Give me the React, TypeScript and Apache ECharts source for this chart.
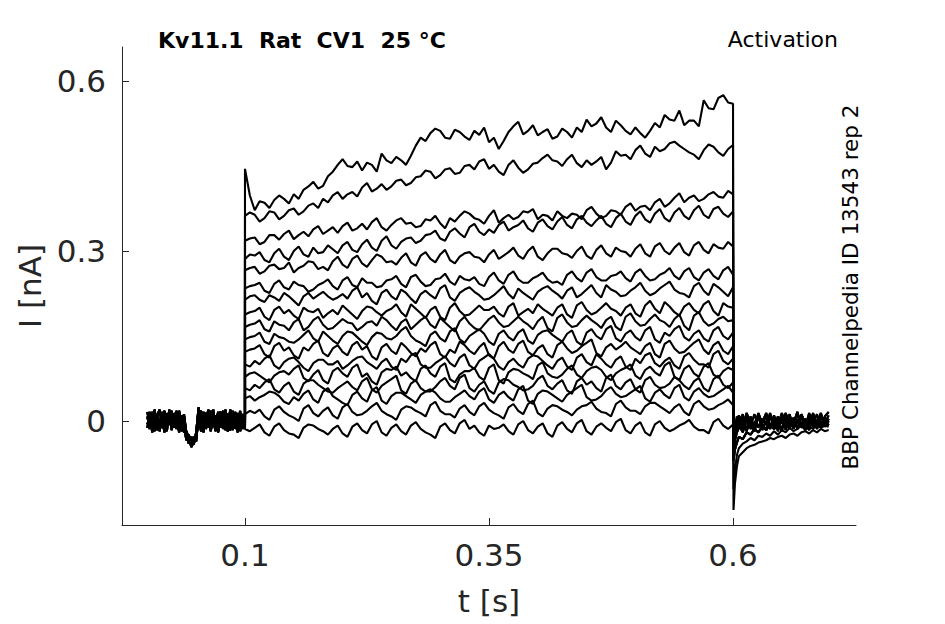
import React, { useEffect, useRef } from "react";
import * as echarts from "echarts";

// Sample times [s]
const preT: number[] = Array.from({ length: 41 }, (_, i) => +(0.0025 * i).toFixed(4));
const stepT: number[] = Array.from({ length: 101 }, (_, i) => +(0.1 + 0.005 * i).toFixed(4));
const postT: number[] = [0.6005, 0.602, 0.604, ...Array.from({ length: 24 }, (_, i) => +(0.606 + 0.004 * i).toFixed(4))];

// Currents in pA (converted to nA when building the series)
const preA = [8, -14, 16, -6, 12, -18, 4, 18, -10, 6, -16, 14, -4, 10, -18, 8, -26, -38, -30, -42, -20, 24, -10, 16, -14, 8, -18, 12, -6, 16, -12, 4, -16, 14, -8, 18, -14, 6, -10, 12, 2];
const preB = [-12, 16, -4, -18, 10, 20, -8, -16, 14, 2, 18, -12, 8, -20, 6, -10, -34, -24, -44, -28, -36, 10, 18, -16, 4, 20, -8, -2, -18, 10, 16, -14, 8, -4, 20, -16, 2, 14, -18, -2, 6];
const preC = [16, -8, 4, 20, -16, -2, 12, -20, 8, -6, 14, 0, -14, 18, -4, 12, -22, -40, -28, -36, -30, 4, -18, 8, 14, -12, 18, -4, 10, -20, 2, 18, -8, -18, 6, -4, 16, -20, 10, -6, -10];
const preD = [-6, 8, -20, 12, 2, -12, 16, -4, -18, 20, -10, 6, 18, -16, 10, -20, -18, -30, -46, -34, -26, 18, 6, -20, 12, -6, 2, 20, -14, -10, 14, -6, 20, -12, -16, 8, 12, -6, 18, -14, -4];

// Step currents, 0.100 s to 0.600 s every 5 ms
const trace1 = [
  445, 398, 372, 388, 385, 376, 390, 398, 392, 384,
  400, 392, 408, 414, 422, 410, 415, 432, 440, 452,
  462, 450, 448, 458, 442, 456, 452, 440, 472, 460,
  455, 466, 460, 452, 468, 486, 500, 494, 508, 516,
  512, 500, 498, 514, 510, 502, 496, 512, 505, 518,
  492, 500, 480, 494, 510, 520, 528, 506, 512, 522,
  504, 510, 515, 498, 502, 516, 510, 500, 518, 510,
  532, 520, 525, 536, 518, 510, 530, 522, 512, 506,
  518, 508, 500, 512, 526, 518, 540, 532, 530, 548,
  522, 530, 530, 520, 566, 552, 550, 570, 575, 562, 560];
const trace2 = [
  362, 368, 364, 352, 358, 370, 368, 356, 362, 372,
  375, 364, 370, 380, 384, 376, 392, 386, 398, 404,
  392, 400, 404, 396, 412, 420, 405, 410, 418, 408,
  414, 424, 426, 416, 420, 430, 432, 442, 440, 428,
  434, 444, 446, 436, 438, 450, 452, 444, 458, 462,
  445, 452, 440, 434, 452, 460, 447, 438, 444, 454,
  456, 464, 470, 460, 458, 450, 462, 470, 455, 448,
  460, 452, 458, 466, 444, 456, 476, 468, 470, 462,
  478, 486, 472, 466, 484, 476, 480, 490, 493, 486,
  480, 474, 470, 462, 478, 488, 484, 474, 468, 480, 487];
const trace3 = [
  318, 322, 324, 312, 316, 328, 328, 320, 330, 336,
  321, 328, 334, 326, 338, 344, 330, 336, 342, 332,
  344, 350, 336, 340, 348, 338, 351, 358, 342, 336,
  346, 354, 358, 348, 350, 342, 344, 356, 354, 362,
  349, 340, 358, 352, 362, 370, 366, 358, 355, 348,
  362, 372, 350, 358, 364, 356, 360, 370, 368, 374,
  356, 364, 362, 354, 370, 362, 358, 366, 364, 356,
  372, 378, 366, 358, 362, 372, 370, 364, 378, 384,
  371, 378, 380, 372, 386, 392, 378, 384, 394, 402,
  386, 394, 398, 388, 392, 400, 404, 396, 394, 406, 400];
const trace4 = [
  286, 294, 292, 298, 284, 280, 296, 304, 290, 284,
  300, 308, 294, 290, 306, 296, 298, 310, 303, 296,
  310, 316, 302, 298, 312, 320, 306, 300, 318, 326,
  310, 304, 316, 322, 324, 314, 318, 328, 330, 336,
  322, 318, 334, 340, 331, 324, 342, 348, 334, 328,
  338, 332, 346, 352, 336, 342, 346, 354, 340, 334,
  350, 356, 344, 338, 352, 360, 346, 340, 356, 362,
  350, 344, 354, 362, 348, 342, 358, 366, 352, 346,
  362, 370, 356, 350, 366, 374, 358, 352, 368, 376,
  362, 356, 372, 380, 364, 358, 374, 378, 366, 360, 370];
const trace5 = [
  266, 270, 272, 260, 264, 274, 276, 268, 270, 280,
  262, 270, 274, 282, 280, 268, 272, 266, 282, 290,
  276, 270, 286, 292, 278, 272, 284, 294, 290, 280,
  282, 276, 288, 296, 280, 274, 292, 298, 286, 280,
  294, 302, 284, 278, 290, 296, 298, 290, 288, 280,
  294, 302, 286, 292, 298, 306, 292, 286, 300, 308,
  290, 284, 296, 304, 304, 296, 294, 288, 300, 308,
  292, 286, 302, 310, 296, 290, 306, 300, 298, 290,
  304, 312, 296, 290, 308, 314, 300, 294, 306, 314,
  298, 292, 310, 316, 302, 296, 312, 306, 304, 316, 308];
const trace6 = [
  234, 238, 240, 244, 230, 226, 242, 248, 236, 232,
  246, 240, 238, 228, 232, 240, 244, 250, 238, 232,
  248, 254, 240, 236, 252, 244, 244, 236, 238, 248,
  250, 256, 242, 236, 254, 258, 246, 238, 240, 250,
  252, 260, 246, 240, 256, 250, 248, 254, 242, 238,
  254, 262, 248, 242, 258, 264, 250, 244, 244, 252,
  256, 262, 250, 244, 246, 240, 258, 264, 252, 246,
  262, 268, 254, 248, 248, 256, 258, 264, 252, 246,
  262, 268, 256, 248, 250, 258, 262, 270, 256, 250,
  264, 270, 254, 248, 262, 268, 256, 250, 266, 272, 258];
const trace7 = [
  214, 220, 222, 214, 210, 222, 218, 212, 226, 220,
  212, 204, 220, 226, 216, 222, 228, 220, 214, 218,
  224, 216, 230, 236, 218, 226, 212, 206, 226, 232,
  220, 214, 232, 226, 216, 208, 224, 230, 222, 216,
  234, 240, 218, 212, 226, 232, 236, 228, 222, 214,
  216, 222, 230, 238, 224, 216, 234, 226, 220, 214,
  228, 234, 238, 230, 224, 216, 230, 236, 218, 224,
  232, 240, 226, 218, 240, 232, 228, 220, 222, 230,
  236, 244, 230, 222, 226, 234, 240, 246, 232, 226,
  224, 218, 238, 244, 230, 222, 242, 236, 228, 220, 236];
const trace8 = [
  188, 192, 194, 200, 184, 178, 196, 202, 190, 196,
  186, 180, 200, 194, 192, 198, 182, 190, 196, 188,
  204, 196, 188, 180, 194, 202, 200, 192, 186, 194,
  198, 206, 192, 184, 206, 198, 190, 182, 196, 202,
  184, 178, 200, 208, 194, 186, 188, 196, 204, 196,
  196, 202, 190, 184, 202, 208, 186, 192, 198, 190,
  206, 198, 192, 186, 200, 206, 188, 182, 204, 210,
  196, 188, 192, 200, 208, 198, 194, 186, 200, 206,
  190, 184, 204, 212, 198, 190, 210, 202, 192, 186,
  202, 208, 196, 190, 206, 212, 194, 186, 208, 202, 200];
const trace9 = [
  166, 170, 172, 178, 162, 158, 176, 170, 168, 160,
  174, 180, 160, 166, 178, 184, 170, 162, 164, 172,
  180, 174, 172, 160, 166, 174, 176, 168, 184, 178,
  168, 160, 174, 180, 162, 170, 178, 184, 170, 164,
  182, 174, 166, 158, 176, 184, 172, 164, 160, 170,
  180, 186, 174, 166, 168, 176, 184, 176, 170, 162,
  176, 184, 164, 158, 182, 188, 174, 166, 168, 178,
  186, 178, 172, 164, 178, 184, 166, 160, 184, 190,
  176, 168, 170, 180, 188, 178, 174, 166, 180, 188,
  168, 160, 186, 192, 176, 168, 172, 180, 184, 176, 178];
const trace10 = [
  144, 148, 150, 156, 140, 136, 154, 148, 146, 140,
  138, 144, 152, 160, 146, 140, 158, 150, 142, 136,
  150, 158, 156, 148, 140, 134, 148, 156, 154, 146,
  144, 150, 160, 166, 150, 142, 138, 132, 152, 158,
  146, 140, 158, 164, 144, 138, 150, 156, 162, 154,
  140, 134, 154, 160, 148, 142, 156, 162, 142, 136,
  152, 158, 160, 152, 146, 140, 154, 160, 140, 134,
  156, 162, 150, 144, 162, 168, 146, 140, 154, 160,
  148, 142, 160, 166, 144, 138, 156, 150, 162, 168,
  148, 142, 154, 160, 146, 140, 160, 166, 150, 144, 156];
const trace11 = [
  122, 126, 128, 134, 118, 112, 132, 138, 124, 130,
  116, 110, 130, 124, 136, 142, 120, 114, 128, 134,
  122, 116, 134, 140, 126, 132, 114, 108, 130, 136,
  124, 118, 138, 130, 120, 114, 128, 122, 134, 140,
  118, 112, 126, 120, 140, 134, 124, 118, 130, 138,
  116, 110, 132, 140, 126, 120, 136, 142, 122, 116,
  128, 134, 118, 112, 134, 140, 128, 120, 124, 132,
  138, 144, 120, 114, 130, 136, 126, 132, 140, 130,
  124, 118, 132, 138, 118, 112, 136, 142, 128, 120,
  122, 130, 138, 144, 126, 118, 134, 140, 124, 118, 132];
const trace12 = [
  100, 96, 106, 100, 110, 116, 98, 92, 104, 110,
  112, 104, 94, 88, 102, 108, 108, 100, 100, 106,
  92, 98, 106, 112, 114, 104, 98, 92, 104, 110,
  96, 90, 110, 104, 116, 120, 100, 94, 94, 102,
  108, 114, 102, 96, 112, 118, 98, 92, 106, 112,
  118, 110, 96, 90, 104, 110, 100, 94, 110, 116,
  114, 106, 98, 92, 106, 112, 96, 90, 112, 118,
  104, 98, 118, 110, 100, 94, 108, 114, 96, 90,
  110, 102, 116, 120, 102, 96, 106, 112, 98, 92,
  114, 120, 108, 100, 100, 94, 118, 124, 106, 100, 110];
const trace13 = [
  78, 84, 86, 80, 74, 68, 80, 86, 88, 82,
  92, 98, 76, 70, 82, 90, 72, 66, 88, 94,
  84, 78, 94, 100, 78, 84, 70, 64, 86, 92,
  90, 96, 80, 86, 76, 70, 92, 98, 84, 78,
  96, 102, 74, 68, 82, 88, 88, 94, 78, 72,
  94, 100, 72, 66, 86, 92, 90, 84, 80, 74,
  98, 104, 84, 78, 76, 82, 92, 98, 82, 76,
  88, 94, 96, 90, 78, 72, 84, 90, 94, 100,
  80, 74, 90, 96, 86, 80, 98, 104, 78, 72,
  92, 98, 84, 78, 96, 102, 82, 76, 88, 94, 90];
const trace14 = [
  58, 54, 64, 58, 68, 74, 56, 50, 62, 68,
  52, 46, 66, 72, 72, 64, 58, 52, 50, 58,
  64, 70, 60, 54, 70, 76, 56, 50, 62, 68,
  74, 80, 54, 48, 66, 72, 58, 52, 52, 60,
  70, 76, 62, 56, 76, 82, 58, 52, 64, 70,
  54, 48, 68, 74, 72, 64, 60, 54, 56, 62,
  74, 80, 62, 56, 66, 72, 54, 48, 70, 76,
  64, 70, 58, 52, 76, 82, 62, 56, 68, 74,
  56, 50, 72, 78, 64, 58, 60, 66, 78, 72,
  62, 56, 70, 76, 58, 52, 74, 80, 64, 58, 68];
const trace15 = [
  40, 44, 36, 42, 46, 52, 50, 44, 34, 30,
  42, 36, 48, 54, 38, 32, 52, 58, 44, 38,
  32, 28, 46, 52, 40, 34, 54, 60, 36, 30,
  44, 50, 50, 44, 38, 32, 46, 52, 56, 50,
  40, 34, 34, 42, 48, 54, 44, 38, 52, 58,
  38, 32, 46, 52, 42, 36, 56, 62, 36, 30,
  48, 54, 52, 46, 40, 34, 46, 52, 58, 64,
  42, 36, 38, 44, 54, 60, 48, 42, 44, 50,
  56, 62, 40, 34, 50, 56, 46, 40, 58, 64,
  42, 36, 52, 58, 48, 42, 44, 50, 56, 62, 50];
const trace16 = [
  12, 18, 14, 20, 8, 2, 20, 26, 16, 10,
  6, 0, 22, 28, 14, 8, 18, 24, 10, 4,
  24, 30, 16, 10, 12, 18, 26, 32, 18, 12,
  8, 2, 20, 26, 24, 18, 14, 8, 28, 34,
  18, 12, 12, 6, 22, 28, 16, 10, 26, 32,
  20, 14, 10, 4, 24, 30, 18, 12, 30, 36,
  14, 8, 22, 28, 26, 20, 16, 10, 20, 26,
  28, 34, 22, 16, 14, 8, 30, 36, 24, 18,
  18, 12, 26, 32, 32, 26, 20, 14, 24, 30,
  16, 10, 30, 36, 26, 20, 22, 28, 32, 38, 28];
const trace17 = [
  -14, -18, -12, -6, -20, -26, -10, -4, -16, -22,
  -24, -30, -12, -6, -8, -14, -18, -24, -14, -8,
  -22, -28, -10, -4, -16, -22, -6, 0, -20, -26,
  -12, -6, -18, -24, -8, -2, -14, -20, -24, -30,
  -10, -4, -16, -22, -4, 2, -14, -8, -20, -26,
  -8, -14, -12, -6, -18, -24, -6, 0, -16, -22,
  -10, -4, -22, -28, -8, -2, -14, -20, -4, 2,
  -18, -24, -10, -4, -12, -18, -2, 4, -16, -22,
  -8, -2, -20, -26, -6, 0, -12, -18, -14, -8,
  -4, 2, -10, -16, -16, -22, -2, 4, -8, -14, -6];

// Tail currents after the step
const postDeep = [-157, -110, -80, -62, -55, -48, -44, -42, -38, -36, -34, -30, -32, -28, -26, -30, -24, -22, -26, -20, -18, -22, -16, -20, -14, -18, -16];
const postMid = [-120, -86, -60, -48, -40, -36, -30, -34, -26, -28, -22, -26, -18, -24, -16, -20, -12, -18, -14, -8, -16, -10, -14, -6, -12, -8, -10];
const postShallow = [-70, -50, -38, -28, -32, -20, -24, -14, -20, -10, -16, -6, -14, -8, -2, -12, -4, -10, 2, -8, -4, 4, -10, 0, -6, 6, -2];
const postFlatA = [-30, -18, -10, 6, -14, 10, -8, 12, -12, 4, -6, 14, -10, 8, -4, 12, -14, 6, -2, 10, -10, 14, -6, 2, -12, 8, 16];
const postFlatB = [-22, -12, 8, -6, 12, -16, 4, -10, 14, -4, 8, -12, 10, -8, 14, -2, 6, -14, 12, -6, 4, -10, 14, -8, 6, -4, 10];
const postFlatC = [-40, -26, -18, -8, -20, 2, -14, -4, 10, -16, 0, -10, 6, -18, 4, -8, 12, -12, -2, 8, -16, 6, -6, 12, -10, 2, -4];
const postFlatD = [-50, -34, -20, -12, 4, -18, 8, -14, 12, -6, -16, 10, -12, 6, -18, 14, -8, 4, -14, 12, -4, -16, 10, -6, 14, -10, 4];
const postFlatE = [-26, -8, -16, 10, -12, 14, -6, -18, 8, -2, 14, -14, 4, -10, 10, -16, 8, -4, 16, -12, 2, -8, 12, -14, 6, 0, -8];

const steps = [trace1, trace2, trace3, trace4, trace5, trace6, trace7, trace8, trace9, trace10, trace11, trace12, trace13, trace14, trace15, trace16, trace17];
const pres = [preA, preB, preC, preD];
const posts = [postDeep, postMid, postShallow, postShallow, postFlatD, postShallow, postFlatA, postFlatE, postFlatB, postFlatC, postFlatD, postFlatA, postFlatE, postFlatB, postFlatC, postFlatD, postFlatE];

const xTicks = [0.1, 0.35, 0.6];
const yTicks = [0, 0.3, 0.6];

const FONT = "DejaVu Sans";
const TXT = "#262626";

export default function App() {
  const ref = useRef<HTMLDivElement>(null);
  useEffect(() => {
    if (!ref.current) return;
    const chart = echarts.init(ref.current, undefined, { renderer: "svg" });
    const series = steps.map((st, k) => {
      const pre = pres[k % pres.length];
      const post = posts[k];
      const data: number[][] = [
        ...preT.map((t, i) => [t, pre[i] / 1000]),
        ...stepT.map((t, i) => [t, st[i] / 1000]),
        ...postT.map((t, i) => [t, post[i] / 1000]),
      ];
      return {
        type: "line",
        data,
        showSymbol: false,
        symbol: "none",
        lineStyle: { color: "#000", width: 2.1 },
        itemStyle: { color: "#000" },
        silent: true,
      };
    });
    chart.setOption({
      animation: false,
      backgroundColor: "#fff",
      grid: { left: 122, right: 89, top: 47, bottom: 99, containLabel: false },
      xAxis: {
        type: "value",
        min: -0.026,
        max: 0.726,
        axisLine: { show: true, onZero: false, lineStyle: { color: TXT, width: 1 } },
        axisTick: { show: true, inside: true, length: 7, customValues: xTicks, lineStyle: { color: TXT } },
        axisLabel: { customValues: xTicks, formatter: (v: number) => String(v), fontSize: 31, color: TXT, fontFamily: FONT, margin: 14 },
        splitLine: { show: false },
        name: "t [s]",
        nameLocation: "middle",
        nameGap: 60,
        nameTextStyle: { fontSize: 31, color: TXT, fontFamily: FONT },
      },
      yAxis: {
        type: "value",
        min: -0.1835,
        max: 0.66,
        axisLine: { show: true, onZero: false, lineStyle: { color: TXT, width: 1 } },
        axisTick: { show: true, inside: true, length: 7, customValues: yTicks, lineStyle: { color: TXT } },
        axisLabel: { customValues: yTicks, formatter: (v: number) => String(v), fontSize: 31, color: TXT, fontFamily: FONT, margin: 16 },
        splitLine: { show: false },
        name: "I [nA]",
        nameLocation: "middle",
        nameGap: 76,
        nameTextStyle: { fontSize: 31, color: TXT, fontFamily: FONT },
      },
      graphic: [
        {
          type: "text",
          x: 158,
          y: 40,
          style: { text: "Kv11.1  Rat  CV1  25 °C", font: `bold 22px "${FONT}"`, fill: "#000", textAlign: "left", textVerticalAlign: "middle", align: "left", verticalAlign: "middle" },
        },
        {
          type: "text",
          x: 838,
          y: 39,
          style: { text: "Activation", font: `22px "${FONT}"`, fill: "#000", textAlign: "right", textVerticalAlign: "middle", align: "right", verticalAlign: "middle" },
        },
        {
          type: "text",
          x: 850,
          y: 287,
          rotation: Math.PI / 2,
          style: { text: "BBP Channelpedia ID 13543 rep 2", font: `21.5px "${FONT}"`, fill: "#000", textAlign: "center", textVerticalAlign: "middle", align: "center", verticalAlign: "middle" },
        },
      ],
      series,
    });
    return () => chart.dispose();
  }, []);
  return <div ref={ref} style={{ position: "fixed", left: 0, top: 0, width: 945, height: 624 }} />;
}
